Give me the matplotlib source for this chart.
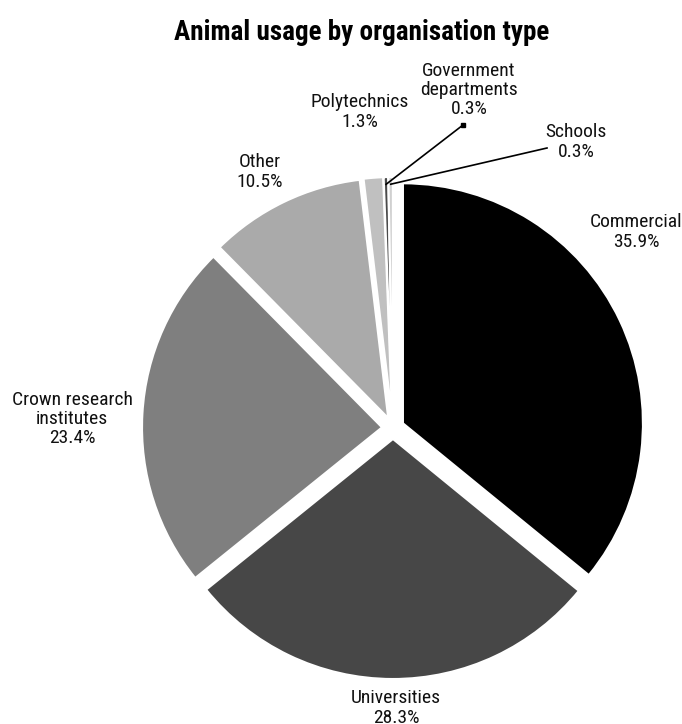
import numpy as np
import matplotlib.pyplot as plt
from matplotlib import font_manager

# data
labels = ['Commercial', 'Universities', 'Crown research\ninstitutes', 'Other',
          'Polytechnics', 'Government\ndepartments', 'Schools']
shares = [35.9, 28.3, 23.4, 10.5, 1.3, 0.3, 0.3]
colors = ['#000000', '#474747', '#7f7f7f', '#aaaaaa', '#c0c0c0', '#4a4a4a', '#d0d0d0']

# layout (pixels, measured from top-left of the 682x724 image)
W, H = 682, 724
cx, cy, R = 393, 428, 240
label_xy = [(636, 232), (396, 708), (72, 419), (260, 172), (360, 112), (469, 90), (576, 142)]
leader_from = {5: (463, 125), 6: (547, 148)}

# pick a narrow font if there is one installed
installed = {f.name for f in font_manager.fontManager.ttflist}
narrow = [n for n in ['Liberation Sans Narrow', 'DejaVu Sans Condensed', 'Roboto Condensed',
                      'Open Sans Condensed', 'Noto Sans Condensed'] if n in installed]
if narrow:
    plt.rcParams['font.family'] = [narrow[0], 'DejaVu Sans']
    lab_size, title_size = 14, 19.5
else:
    plt.rcParams['font.family'] = ['Roboto', 'DejaVu Sans']
    lab_size, title_size = 12, 16

fig = plt.figure(figsize=(W / 100, H / 100), dpi=100)
ax = fig.add_axes([0, 0, 1, 1])

wedges, _ = ax.pie(shares, colors=colors, startangle=90, counterclock=False,
                   radius=R, center=(cx, H - cy), explode=[11] * len(shares),
                   wedgeprops=dict(edgecolor='white', linewidth=1.5))

ax.set_xlim(0, W)
ax.set_ylim(0, H)
ax.set_aspect('auto')
ax.axis('off')

for i, (lab, val) in enumerate(zip(labels, shares)):
    x, y = label_xy[i]
    ax.text(x, H - y, f'{lab}\n{val:.1f}%', ha='center', va='center',
            fontsize=lab_size, linespacing=1.1, color='#111111')

# leader lines for the tiny slices
for i, (lx, ly) in leader_from.items():
    w = wedges[i]
    tm = np.deg2rad((w.theta1 + w.theta2) / 2)
    px = w.center[0] + w.r * 0.97 * np.cos(tm)
    py = w.center[1] + w.r * 0.97 * np.sin(tm)
    ax.plot([px, lx], [py, H - ly], color='black', lw=1.2)
    if i == 5:
        ax.plot([lx], [H - ly], marker='s', ms=3, color='black')

fig.text(362 / W, 1 - 32 / H, 'Animal usage by organisation type',
         ha='center', va='center', fontsize=title_size, fontweight='bold')

fig.savefig('out.png', dpi=100)
